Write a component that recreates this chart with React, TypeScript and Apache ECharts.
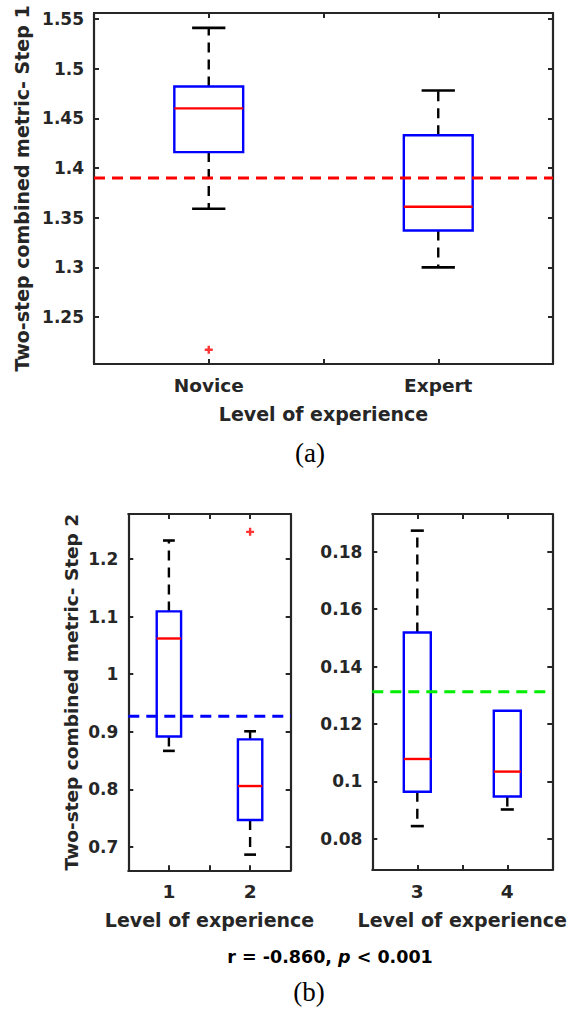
import React, { useEffect, useRef } from 'react';
import * as echarts from 'echarts';

// ---------- DATA ----------
// [min whisker, Q1, median, Q3, max whisker]
const categoriesA = ['Novice', 'Expert'];
const statsA = [
  [1.359, 1.416, 1.460, 1.482, 1.541],
  [1.300, 1.337, 1.361, 1.433, 1.478],
];
const outliersA = [[1, 1.217]];
const refA = 1.390;
const yTickLabelsA = ['1.25', '1.3', '1.35', '1.4', '1.45', '1.5', '1.55'];

const categoriesB1 = ['1', '2'];
const statsB1 = [
  [0.867, 0.892, 1.062, 1.109, 1.232],
  [0.687, 0.747, 0.806, 0.887, 0.901],
];
const outliersB1 = [[2, 1.247]];
const refB1 = 0.927;
const yTickLabelsB1 = ['0.7', '0.8', '0.9', '1', '1.1', '1.2'];

const categoriesB2 = ['3', '4'];
const statsB2 = [
  [0.0844, 0.0964, 0.1078, 0.1519, 0.1874],
  [0.0902, 0.0947, 0.1034, 0.1246, 0.1246],
];
const outliersB2: number[][] = [];
const refB2 = 0.1312;
const yTickLabelsB2 = ['0.08', '0.1', '0.12', '0.14', '0.16', '0.18'];

const xLabel = 'Level of experience';
const yLabelA = 'Two-step combined metric- Step 1';
const yLabelB = 'Two-step combined metric- Step 2';
const statText = ['r = -0.860, ', 'p', ' < 0.001'];
const panelA = '(a)';
const panelB = '(b)';

// ---------- STYLE ----------
const AX = '#262626';
const FONT = '"DejaVu Sans", sans-serif';
const BOX_W = 0.3;
const CAP_W = 0.145;
const PLUS = 'path://M3.5,0h3v3.5h3.5v3h-3.5v3.5h-3v-3.5h-3.5v-3h3.5z';

function renderBox(params: any, api: any) {
  const x = api.value(0);
  const mn = api.value(1), q1 = api.value(2), md = api.value(3), q3 = api.value(4), mx = api.value(5);
  const bw = api.size([BOX_W, 0])[0];
  const cw = api.size([CAP_W, 0])[0];
  const pMn = api.coord([x, mn]);
  const pQ1 = api.coord([x, q1]);
  const pMd = api.coord([x, md]);
  const pQ3 = api.coord([x, q3]);
  const pMx = api.coord([x, mx]);
  const cx = pMd[0];
  const dash = { stroke: '#000', lineWidth: 2.4, lineDash: [10, 7], fill: 'none' };
  const solid = { stroke: '#000', lineWidth: 2.6, fill: 'none' };
  const children: any[] = [];
  if (mx > q3) {
    children.push({ type: 'line', shape: { x1: cx, y1: pQ3[1], x2: cx, y2: pMx[1] }, style: dash });
    children.push({ type: 'line', shape: { x1: cx - cw / 2, y1: pMx[1], x2: cx + cw / 2, y2: pMx[1] }, style: solid });
  }
  if (mn < q1) {
    children.push({ type: 'line', shape: { x1: cx, y1: pQ1[1], x2: cx, y2: pMn[1] }, style: dash });
    children.push({ type: 'line', shape: { x1: cx - cw / 2, y1: pMn[1], x2: cx + cw / 2, y2: pMn[1] }, style: solid });
  }
  children.push({
    type: 'rect',
    shape: { x: cx - bw / 2, y: pQ3[1], width: bw, height: pQ1[1] - pQ3[1] },
    style: { fill: 'none', stroke: '#0000ff', lineWidth: 2.4 },
  });
  children.push({
    type: 'line',
    shape: { x1: cx - bw / 2, y1: pMd[1], x2: cx + bw / 2, y2: pMd[1] },
    style: { stroke: '#ff0000', lineWidth: 2.4 },
  });
  return { type: 'group', children };
}

function xAxes(gridIndex: number, cats: string[], offset: number, withName: boolean) {
  const min = offset + 0.5;
  const max = offset + cats.length + 0.5;
  const common = {
    type: 'value',
    gridIndex,
    min,
    max,
    interval: 0.5,
    axisLine: { show: true, onZero: false, lineStyle: { color: AX, width: 2.2 } },
    axisTick: { show: true, inside: true, length: 5, lineStyle: { color: AX, width: 2 } },
    splitLine: { show: false },
  };
  return [
    {
      ...common,
      position: 'bottom',
      axisLabel: {
        margin: 12,
        color: AX,
        fontFamily: FONT,
        fontWeight: 'bold',
        fontSize: 18.5,
        formatter: (v: number) => {
          const i = Math.round(v - offset - 1);
          return Math.abs(v - offset - 1 - i) < 1e-6 && i >= 0 && i < cats.length ? cats[i] : '';
        },
      },
      name: withName ? xLabel : '',
      nameLocation: 'middle',
      nameGap: 40,
      nameTextStyle: { color: AX, fontFamily: FONT, fontWeight: 'bold', fontSize: 19 },
    },
    { ...common, position: 'top', axisLabel: { show: false } },
  ];
}

function yAxes(gridIndex: number, min: number, max: number, split: number, ticks: string[], name: string, nameGap: number, nameSize: number) {
  const common = {
    type: 'value',
    gridIndex,
    min,
    max,
    splitNumber: split,
    axisLine: { show: true, onZero: false, lineStyle: { color: AX, width: 2.2 } },
    axisTick: { show: true, inside: true, length: 5, lineStyle: { color: AX, width: 2 } },
    splitLine: { show: false },
  };
  return [
    {
      ...common,
      position: 'left',
      axisLabel: {
        margin: 10,
        color: AX,
        fontFamily: FONT,
        fontWeight: 'bold',
        fontSize: 17,
        showMinLabel: true,
        showMaxLabel: true,
        formatter: (v: number) => {
          const t = ticks.find((s) => Math.abs(parseFloat(s) - v) < 1e-7);
          return t ?? '';
        },
      },
      name,
      nameLocation: 'middle',
      nameGap,
      nameTextStyle: { color: AX, fontFamily: FONT, fontWeight: 'bold', fontSize: nameSize },
    },
    { ...common, position: 'right', axisLabel: { show: false } },
  ];
}

function panelSeries(idx: number, stats: number[][], offset: number, outliers: number[][], ref: number, refColor: string, nCats: number) {
  const xi = idx * 2;
  const yi = idx * 2;
  return [
    {
      type: 'custom',
      xAxisIndex: xi,
      yAxisIndex: yi,
      renderItem: renderBox,
      encode: { x: 0, y: [1, 2, 3, 4, 5] },
      data: stats.map((s, i) => [offset + i + 1, ...s]),
      z: 2,
    },
    {
      type: 'scatter',
      xAxisIndex: xi,
      yAxisIndex: yi,
      symbol: PLUS,
      symbolSize: 8,
      itemStyle: { color: '#ff0000' },
      data: outliers,
      z: 3,
    },
    {
      type: 'line',
      xAxisIndex: xi,
      yAxisIndex: yi,
      symbol: 'none',
      showSymbol: false,
      silent: true,
      lineStyle: { color: refColor, width: 3, type: [11, 7] },
      data: [
        [offset + 0.5, ref],
        [offset + nCats + 0.5, ref],
      ],
      z: 4,
    },
  ];
}

export default function App() {
  const ref = useRef<HTMLDivElement>(null);
  useEffect(() => {
    if (!ref.current) return;
    const chart = echarts.init(ref.current, undefined, { renderer: 'svg' });
    const option: any = {
      animation: false,
      backgroundColor: '#ffffff',
      grid: [
        { left: 94, top: 13, width: 459, height: 351, outerBoundsMode: 'none' },
        { left: 128.3, top: 514, width: 162.4, height: 356.3, outerBoundsMode: 'none' },
        { left: 372.3, top: 514, width: 180, height: 356, outerBoundsMode: 'none' },
      ],
      xAxis: [
        ...xAxes(0, categoriesA, 0, true),
        ...xAxes(1, categoriesB1, 0, true),
        ...xAxes(2, categoriesB2, 2, true),
      ],
      yAxis: [
        ...yAxes(0, 1.2027, 1.556, 7, yTickLabelsA, yLabelA, 60, 19),
        ...yAxes(1, 0.6598, 1.278, 6, yTickLabelsB1, yLabelB, 47, 18.5),
        ...yAxes(2, 0.0691, 0.1932, 6, yTickLabelsB2, '', 0, 18),
      ],
      series: [
        ...panelSeries(0, statsA, 0, outliersA, refA, '#ff0000', categoriesA.length),
        ...panelSeries(1, statsB1, 0, outliersB1, refB1, '#0000ff', categoriesB1.length),
        ...panelSeries(2, statsB2, 2, outliersB2, refB2, '#00ee00', categoriesB2.length),
      ],
      graphic: [
        {
          type: 'text',
          x: 310,
          y: 453,
          style: {
            text: panelA,
            font: '27px "Liberation Serif", serif',
            fill: '#000',
            align: 'center',
            verticalAlign: 'middle',
          },
        },
        {
          type: 'text',
          x: 330,
          y: 957,
          style: {
            text: `{b|${statText[0]}}{i|${statText[1]}}{b|${statText[2]}}`,
            align: 'center',
            verticalAlign: 'middle',
            rich: {
              b: { fontFamily: FONT, fontWeight: 'bold', fontSize: 17.5, fill: '#000', color: '#000' },
              i: { fontFamily: FONT, fontWeight: 'bold', fontStyle: 'italic', fontSize: 17.5, fill: '#000', color: '#000' },
            },
          },
        },
        {
          type: 'text',
          x: 309,
          y: 992,
          style: {
            text: panelB,
            font: '27px "Liberation Serif", serif',
            fill: '#000',
            align: 'center',
            verticalAlign: 'middle',
          },
        },
      ],
    };
    chart.setOption(option);
    return () => chart.dispose();
  }, []);
  return <div ref={ref} style={{ position: 'absolute', left: 0, top: 0, width: 571, height: 1012 }} />;
}
